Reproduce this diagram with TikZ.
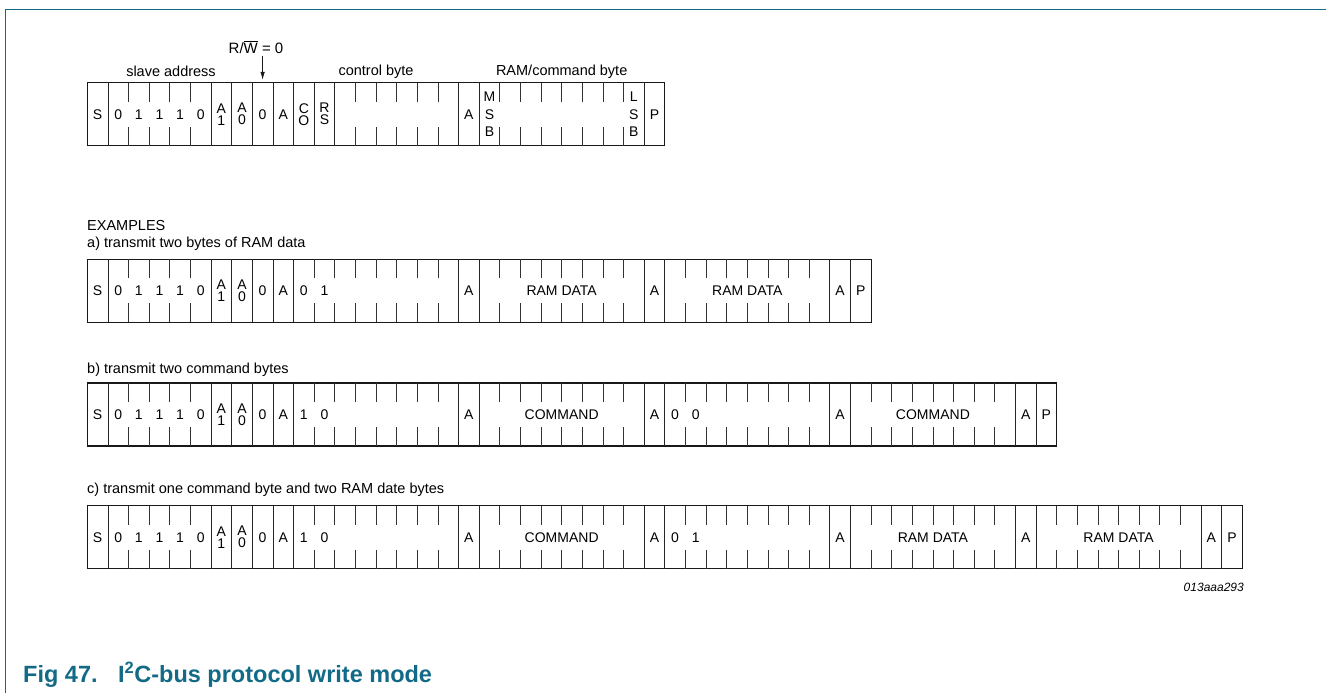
\documentclass[tikz,border=0pt]{standalone}
\usepackage{fontspec}
\setmainfont{Liberation Sans}
\usetikzlibrary{positioning, arrows.meta, calc}
\definecolor{figteal}{RGB}{18,106,135}
\tikzset{
  arr/.style={-{Latex[length=8pt,width=4.5pt]}, line width=0.9pt, draw=black!90},
  frm/.style={draw=black!90, line width=1.1pt},
  sep/.style={draw=black!85, line width=0.85pt},
  bittick/.style={draw=black!80, line width=0.85pt},
  bit/.style={font=\fontsize{14}{12}\selectfont, align=center, inner sep=0pt},
  tall/.style={font=\fontsize{14}{17.3}\selectfont, align=center, inner sep=0pt},
  lab/.style={font=\fontsize{14.5}{16}\selectfont, inner sep=0pt}
}
% one frame row: #1 top, #2 number of cells, #3 full dividers, #4 half dividers
\newcommand{\bitframe}[4]{%
  \draw[frm] ({bx(0)},#1) rectangle ({bx(#2)},#1+63);
  \foreach \k in {#3} \draw[sep] ({bx(\k)},#1) -- ({bx(\k)},#1+63);
  \foreach \k in {#4} {
    \draw[bittick] ({bx(\k)},#1) -- ++(0,19);
    \draw[bittick] ({bx(\k)},#1+63) -- ++(0,-19);
  }
}
% start, slave address, R/W and acknowledge: #1 row name, #2 centre y
\newcommand{\addrbits}[2]{%
  \foreach \i/\t in {0/S,1/0,2/1,3/1,4/1,5/0,6/A\\1,7/A\\0,8/0,9/A}
    \node[bit] (#1\i) at ({cx(\i)},#2) {\t};
}

\begin{document}
\begin{tikzpicture}[x=1pt, y=-1pt,
  declare function={bx(\k)=87.3+\k*20.625; cx(\k)=87.3+(\k+0.5)*20.625;}]
\useasboundingbox (0,0) rectangle (1326,693);
\draw[figteal, line width=1.3pt] (5.3,693) -- (5.3,9.3) -- (1326,9.3);

% format
\node[lab, font=\fontsize{15}{16}\selectfont] (rw) at (256,47) {R/$\overline{\mbox{W}}$ = 0};
\node[lab] (slave) at (171,71) {slave address};
\node[lab] (ctrl) at ({bx(14)},72) {control byte};
\node[lab] (ramcmd) at ({bx(23)},72) {RAM/command byte};
\coordinate (rwtop) at ({cx(8)},56);
\coordinate (rwtip) at ({cx(8)},80);
\draw[arr] (rwtop) -- (rwtip);
\bitframe{82.7}{28}{1,6,7,8,9,10,11,12,18,19,27}{2,3,4,5,13,14,15,16,17,20,21,22,23,24,25,26}
\addrbits{h}{114.2}
\foreach \i/\t in {10/C\\O,11/R\\S,18/A,27/P}
  \node[bit] (h\i) at ({cx(\i)},114.2) {\t};
\node[tall] (msb) at ({cx(19)},114.2) {M\\S\\B};
\node[tall] (lsb) at ({cx(26)},114.2) {L\\S\\B};

% examples
\node[lab, anchor=west] (ex) at (87,226) {EXAMPLES};
\node[lab, anchor=west] (capa) at (87,244) {a) transmit two bytes of RAM data};
\bitframe{259.3}{38}{1,6,7,8,9,10,18,19,27,28,36,37}{2,3,4,5,11,12,...,17,20,21,...,26,29,30,...,35}
\addrbits{a}{290.8}
\foreach \i/\t in {10/0,11/1,18/A,27/A,36/A,37/P}
  \node[bit] (a\i) at ({cx(\i)},290.8) {\t};
\node[bit] (adat1) at ({bx(23)},290.8) {RAM DATA};
\node[bit] (adat2) at ({bx(32)},290.8) {RAM DATA};

\node[lab, anchor=west] (capb) at (87,370) {b) transmit two command bytes};
\bitframe{383}{47}{1,6,7,8,9,10,18,19,27,28,36,37,45,46}{2,3,4,5,11,12,...,17,20,21,...,26,29,30,...,35,38,39,...,44}
\addrbits{b}{414.5}
\foreach \i/\t in {10/1,11/0,18/A,27/A,28/0,29/0,36/A,45/A,46/P}
  \node[bit] (b\i) at ({cx(\i)},414.5) {\t};
\node[bit] (bcmd1) at ({bx(23)},414.5) {COMMAND};
\node[bit] (bcmd2) at ({bx(41)},414.5) {COMMAND};

\node[lab, anchor=west] (capc) at (87,490) {c) transmit one command byte and two RAM date bytes};
\bitframe{505.7}{56}{1,6,7,8,9,10,18,19,27,28,36,37,45,46,54,55}{2,3,4,5,11,12,...,17,20,21,...,26,29,30,...,35,38,39,...,44,47,48,...,53}
\addrbits{c}{537.2}
\foreach \i/\t in {10/1,11/0,18/A,27/A,28/0,29/1,36/A,45/A,54/A,55/P}
  \node[bit] (c\i) at ({cx(\i)},537.2) {\t};
\node[bit] (ccmd) at ({bx(23)},537.2) {COMMAND};
\node[bit] (cdat1) at ({bx(41)},537.2) {RAM DATA};
\node[bit] (cdat2) at ({bx(50)},537.2) {RAM DATA};

\node[anchor=east, inner sep=0pt, font=\fontsize{12}{14}\selectfont\itshape] (code) at (1244,587) {013aaa293};

% caption
\node[anchor=base west, inner sep=0pt, text=figteal, font=\fontsize{23.5}{27}\selectfont\bfseries] (fignum) at (23,682.7) {Fig 47.};
\node[anchor=base west, inner sep=0pt, text=figteal, font=\fontsize{23.5}{27}\selectfont\bfseries] (figtitle) at (118,682.7) {I\textsuperscript{2}C-bus protocol write mode};
\end{tikzpicture}
\end{document}
